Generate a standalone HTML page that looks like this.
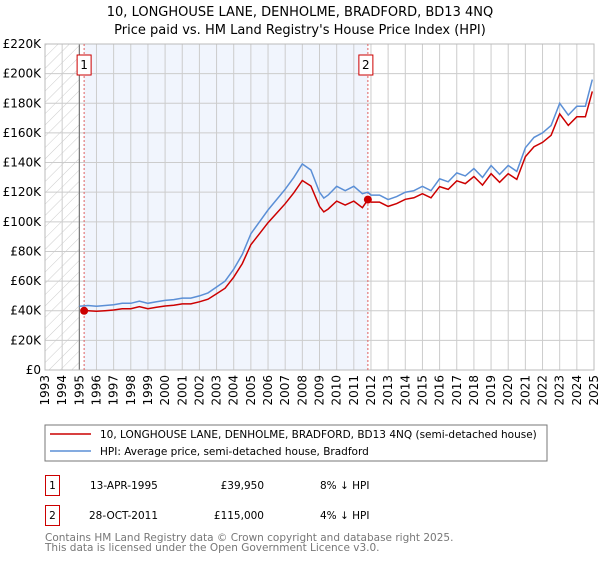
<!DOCTYPE html>
<html><head><meta charset="utf-8"><style>
body{margin:0;background:#fff;font-family:"Liberation Sans","DejaVu Sans",sans-serif;}
svg text{font-family:"DejaVu Sans","Liberation Sans",sans-serif;}
</style></head><body>
<svg id="c" width="600" height="560" xmlns="http://www.w3.org/2000/svg">
<defs><pattern id="hatch" width="8" height="8" patternUnits="userSpaceOnUse" patternTransform="rotate(45)"><line x1="0" y1="0" x2="0" y2="8" stroke="#ccc" stroke-width="1"/></pattern></defs>
<text x="300" y="16" text-anchor="middle" font-size="13">10, LONGHOUSE LANE, DENHOLME, BRADFORD, BD13 4NQ</text>
<text x="300" y="34" text-anchor="middle" font-size="13">Price paid vs. HM Land Registry's House Price Index (HPI)</text>
<g id="plot"></g>
<rect x="45" y="425" width="502" height="36" fill="#fff" stroke="#777"/>
<line x1="50" y1="434" x2="91" y2="434" stroke="#cc0000" stroke-width="1.5"/>
<text x="100" y="438" font-size="10.5">10, LONGHOUSE LANE, DENHOLME, BRADFORD, BD13 4NQ (semi-detached house)</text>
<line x1="50" y1="451" x2="91" y2="451" stroke="#5b8fd6" stroke-width="1.5"/>
<text x="100" y="455" font-size="10.5">HPI: Average price, semi-detached house, Bradford</text>
<g>
<rect x="45.5" y="475.5" width="14" height="20" fill="#fff" stroke="#cc0000"/><text x="52.5" y="489" font-size="10.5" text-anchor="middle">1</text>
<text x="90" y="489" font-size="10.5">13-APR-1995</text><text x="264" y="489" font-size="10.5" text-anchor="end">£39,950</text><text x="320" y="489" font-size="10.5">8% ↓ HPI</text></g>
<g>
<rect x="45.5" y="505.5" width="14" height="20" fill="#fff" stroke="#cc0000"/><text x="52.5" y="519" font-size="10.5" text-anchor="middle">2</text>
<text x="89" y="519" font-size="10.5">28-OCT-2011</text><text x="264" y="519" font-size="10.5" text-anchor="end">£115,000</text><text x="320" y="519" font-size="10.5">4% ↓ HPI</text></g>
<text x="45" y="541" font-size="10.5" fill="#777">Contains HM Land Registry data © Crown copyright and database right 2025.</text>
<text x="45" y="551" font-size="10.5" fill="#777">This data is licensed under the Open Government Licence v3.0.</text>
</svg>
<script>
const hpiYears=[1995.0,1995.5,1996,1996.5,1997,1997.5,1998,1998.5,1999,1999.5,2000,2000.5,2001,2001.5,2002,2002.5,2003,2003.5,2004,2004.5,2005,2005.5,2006,2006.5,2007,2007.5,2008,2008.5,2009,2009.25,2009.5,2010,2010.5,2011,2011.5,2011.82,2012,2012.5,2013,2013.5,2014,2014.5,2015,2015.5,2016,2016.5,2017,2017.5,2018,2018.5,2019,2019.5,2020,2020.5,2021,2021.5,2022,2022.5,2023,2023.5,2024,2024.5,2024.9];
const hpiValues=[43,43.5,43,43.5,44,45,45,46.5,45,46,47,47.5,48.5,48.5,50,52,56,60,68,78,92,100,108,115,122,130,139,135,120,116,118,124,121,124,119,120,118,118,115,117,120,121,124,121,129,127,133,131,136,130,138,132,138,134,150,157,160,165,180,172,178,178,196];
const priceYears=[1995.28,1995.5,1996,1996.5,1997,1997.5,1998,1998.5,1999,1999.5,2000,2000.5,2001,2001.5,2002,2002.5,2003,2003.5,2004,2004.5,2005,2005.5,2006,2006.5,2007,2007.5,2008,2008.5,2009,2009.25,2009.5,2010,2010.5,2011,2011.5,2011.82,2012,2012.5,2013,2013.5,2014,2014.5,2015,2015.5,2016,2016.5,2017,2017.5,2018,2018.5,2019,2019.5,2020,2020.5,2021,2021.5,2022,2022.5,2023,2023.5,2024,2024.5,2024.9];
const priceValues=[39.95,40,39.6,40,40.5,41.4,41.4,42.8,41.4,42.3,43.2,43.7,44.6,44.6,46,47.8,51.5,55.2,62.6,71.8,84.6,92,99.4,105.8,112.2,119.6,127.9,124.2,110.4,106.7,108.6,114,111.3,114,109.5,115,113.3,113.3,110.4,112.3,115.2,116.2,119,116.2,123.8,121.9,127.7,125.8,130.6,124.8,132.5,126.7,132.5,128.6,144,150.7,153.6,158.4,172.8,165.1,170.9,170.9,188];
const saleYears=[1995.28,2011.82];
const saleValues=[39.95,115];
const saleLabels=["1","2"];
const yTicks=[0,20,40,60,80,100,120,140,160,180,200,220];
const yTickLabels=["£0","£20K","£40K","£60K","£80K","£100K","£120K","£140K","£160K","£180K","£200K","£220K"];
const xTicks=[1993,1994,1995,1996,1997,1998,1999,2000,2001,2002,2003,2004,2005,2006,2007,2008,2009,2010,2011,2012,2013,2014,2015,2016,2017,2018,2019,2020,2021,2022,2023,2024,2025];

const L=45,R=594,T=44,B=370;
const xs=y=>L+(y-1993)/(2025-1993)*(R-L);
const ys=v=>B-v/220*(B-T);
const NS="http://www.w3.org/2000/svg";
const g=document.getElementById('plot');
function mk(tag,attrs,parent){const e=document.createElementNS(NS,tag);for(const k in attrs)e.setAttribute(k,attrs[k]);(parent||g).appendChild(e);return e;}

const bg=mk('rect',{x:L,y:T,width:R-L,height:B-T,fill:'#fff'});


const hat=mk('rect',{x:L,y:T,width:xs(1995)-L,height:B-T,fill:'url(#hatch)'});


const sh=mk('rect',{x:xs(saleYears[0]),y:T,width:xs(saleYears[1])-xs(saleYears[0]),height:B-T,fill:'#eef3fc',opacity:0.8});


yTicks.forEach((v,i)=>{
  const ln=mk('line',{x1:L,x2:R,y1:ys(v),y2:ys(v),stroke:'#ccc','stroke-width':1});
  
  
  const t=mk('text',{x:L-4,y:ys(v)+4,'text-anchor':'end','font-size':12});
  t.textContent=yTickLabels[i];
  
  
});
xTicks.forEach(yr=>{
  const ln=mk('line',{x1:xs(yr),x2:xs(yr),y1:T,y2:B,stroke:'#ccc','stroke-width':1});
  
  
  const t=mk('text',{x:0,y:0,'text-anchor':'end','font-size':12,transform:`translate(${xs(yr)+4},${B+5}) rotate(-90)`});
  t.textContent=yr;
  
  
});
const bl=mk('line',{x1:xs(1995),x2:xs(1995),y1:T,y2:B,stroke:'#666','stroke-width':1});


const fr=mk('rect',{x:L,y:T,width:R-L,height:B-T,fill:'none',stroke:'#bbb'});


saleYears.forEach((yr,i)=>{
  const ln=mk('line',{x1:xs(yr),x2:xs(yr),y1:T,y2:B,stroke:'#e06060','stroke-width':1,'stroke-dasharray':'2,2'});
  
  
  const bxX=xs(yr)-(i==0?7:9);
  const bx=mk('rect',{x:bxX,y:55,width:14,height:20,fill:'#fff',stroke:'#cc0000'});
  
  
  const t=mk('text',{x:bxX+7,y:69,'text-anchor':'middle','font-size':12});
  t.textContent=saleLabels[i];
  
  
});
const pts=(xa,va)=>xa.map((x,i)=>xs(x).toFixed(1)+','+ys(va[i]).toFixed(1)).join(' ');
const hl=mk('polyline',{points:pts(hpiYears,hpiValues),fill:'none',stroke:'#5b8fd6','stroke-width':1.5});


const pl=mk('polyline',{points:pts(priceYears,priceValues),fill:'none',stroke:'#cc0000','stroke-width':1.5});


saleYears.forEach((yr,i)=>{
  const c=mk('circle',{cx:xs(yr),cy:ys(saleValues[i]),r:4,fill:'#cc0000'});
  
  
});
</script>
</body></html>
